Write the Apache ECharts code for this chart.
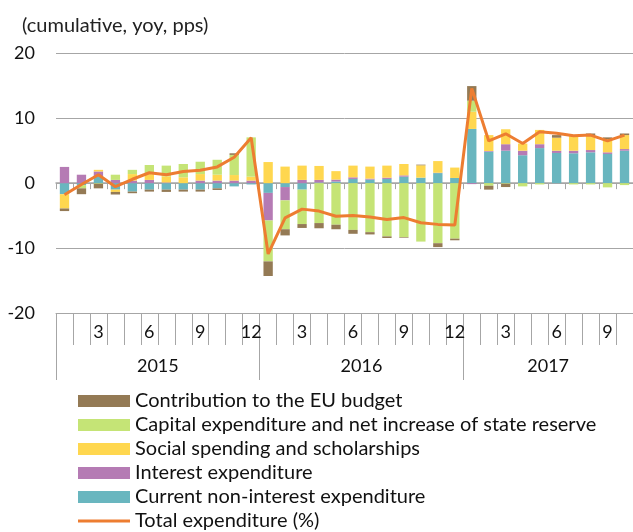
<!DOCTYPE html>
<html><head><meta charset="utf-8">
<script src="https://cdn.jsdelivr.net/npm/echarts@6/dist/echarts.min.js"></script>
<style>html,body{margin:0;padding:0;background:#fff;overflow:hidden}#c{width:633px;height:532px}</style>
</head><body><div id="c"></div>
<script>
const months = ['1','2','3','4','5','6','7','8','9','10','11','12','1','2','3','4','5','6','7','8','9','10','11','12','1','2','3','4','5','6','7','8','9','10'];
const years = ['2015','2016','2017'];
const yearStarts = [0, 12, 24];
const yearCenters = [6, 18, 29];
const current = [-1.7,-0.3,1.0,-1.0,-1.3,-1.0,-1.0,-1.0,-1.0,-0.8,-0.5,-0.2,
  -1.5,-0.6,-1.0,0.1,0.25,0.65,0.55,0.65,1.0,0.85,1.55,0.8,
  8.35,4.85,5.0,4.3,5.4,4.65,4.6,4.75,4.5,5.0];
const interest = [2.5,1.3,0.8,0.5,0.4,0.5,0.1,0,0.4,0.4,0.4,0.4,
  -4.25,-2.05,0.5,0.4,0.3,0.25,0.15,0.2,0.2,0,0.05,0,
  -0.15,0.1,1.0,0.7,0.6,0.35,0.4,0.35,0.25,0.25];
const social = [-2.2,0,0.25,-0.35,1.0,0.9,0.95,0.9,1.0,0.9,0.85,0.6,
  3.25,2.55,2.2,2.15,1.3,1.8,1.85,1.85,1.75,1.9,1.8,1.6,
  2.65,2.45,2.3,1.1,2.2,2.0,2.3,2.3,2.05,2.15];
const capital = [0,-0.5,-0.1,0.8,0.65,1.4,1.65,2.05,1.9,2.3,3.1,6.05,
  -6.3,-4.45,-5.3,-6.15,-6.4,-7.2,-7.55,-8.2,-8.3,-9.0,-9.25,-8.55,
  1.7,-0.4,-0.1,-0.5,-0.2,0,-0.2,-0.2,-0.65,-0.3];
const euBudget = [-0.4,-0.9,-0.7,-0.4,-0.25,-0.3,-0.35,-0.3,-0.3,-0.25,0.25,0,
  -2.25,-0.95,-0.6,-0.8,-0.7,-0.6,-0.35,-0.25,-0.1,0.1,-0.6,-0.25,
  2.25,-0.6,-0.5,0,0,0.4,0.1,0.25,0.25,0.25];
const total = [-1.8,-0.2,1.3,-0.55,0.6,1.6,1.3,1.8,2.0,2.5,4.0,7.0,
  -10.9,-5.35,-4.0,-4.3,-5.1,-5.0,-5.2,-5.6,-5.3,-6.1,-6.35,-6.45,
  14.6,6.5,7.6,6.1,7.9,7.7,7.3,7.4,6.5,7.4];
const names = ['Contribution to the EU budget','Capital expenditure and net increase of state reserve','Social spending and scholarships','Interest expenditure','Current non-interest expenditure','Total expenditure (%)'];
const FONT = 'Lato';
const grey = '#a6a6a6';
const chart = echarts.init(document.getElementById('c'), null, {renderer:'canvas'});
function bar(name, data, color){
  return {name, type:'bar', stack:'s', data, xAxisIndex:0, yAxisIndex:0, barCategoryGap:'45%',
    itemStyle:{color}, emphasis:{disabled:true}};
}
const lineIcon = 'path://M0,0 M0,12 M0,4.5 L52,4.5 L52,7.5 L0,7.5 Z';
chart.setOption({
  animation:false,
  textStyle:{fontFamily:FONT},
  title:{text:'(cumulative, yoy, pps)', left:22, top:16, padding:0,
    textStyle:{fontFamily:FONT, fontSize:20, lineHeight:20, fontWeight:'normal', color:'#222'}},
  grid:{left:56, right:-8, top:53.3, bottom:219},
  legend:{orient:'vertical', left:78, top:391, height:200, padding:0, itemWidth:52, itemHeight:12, itemGap:4,
    textStyle:{fontFamily:FONT, fontSize:20, lineHeight:20, color:'#111'},
    data:names.slice(0,5).map(n=>({name:n, icon:'rect'})).concat([{name:names[5], icon:lineIcon}])},
  xAxis:[
    {type:'category', data:months, position:'bottom', boundaryGap:true,
      axisLine:{onZero:true, lineStyle:{color:grey, width:1.5}},
      axisTick:{show:true, length:6, interval:0, lineStyle:{color:grey}},
      axisLabel:{show:false}, splitLine:{show:false}},
    {type:'category', data:months, position:'bottom', boundaryGap:true,
      axisLine:{onZero:false, lineStyle:{color:grey, width:1}},
      axisTick:{show:true, length:32, interval:0, lineStyle:{color:grey}},
      axisLabel:{interval:(i)=> (i % 12 + 1) % 3 === 0, margin:10, fontSize:18, lineHeight:18, color:'#111', fontFamily:FONT},
      splitLine:{show:false}},
    {type:'value', min:0, max:34, position:'bottom',
      axisLine:{show:false, onZero:false},
      axisTick:{show:true, length:67, customValues:yearStarts, lineStyle:{color:grey}},
      axisLabel:{customValues:yearCenters, margin:44, fontSize:18, lineHeight:18, color:'#111', fontFamily:FONT,
        formatter:(v)=> years[yearCenters.indexOf(v)] || ''},
      splitLine:{show:false}}
  ],
  yAxis:{type:'value', min:-20, max:20, interval:10,
    axisLine:{show:false}, axisTick:{show:false},
    axisLabel:{margin:21, fontSize:18, color:'#111', fontFamily:FONT},
    splitLine:{show:true, lineStyle:{color:grey, width:1}}},
  series:[
    bar(names[4], current, '#69b6bf'),
    bar(names[3], interest, '#b57bb4'),
    bar(names[2], social, '#ffd74f'),
    bar(names[1], capital, '#c5e476'),
    bar(names[0], euBudget, '#947a55'),
    {name:names[5], type:'line', data:total, xAxisIndex:0, yAxisIndex:0, symbol:'none',
      lineStyle:{color:'#ed7d31', width:3}, itemStyle:{color:'#ed7d31'}, z:5, emphasis:{disabled:true}}
  ]
});
</script></body></html>
